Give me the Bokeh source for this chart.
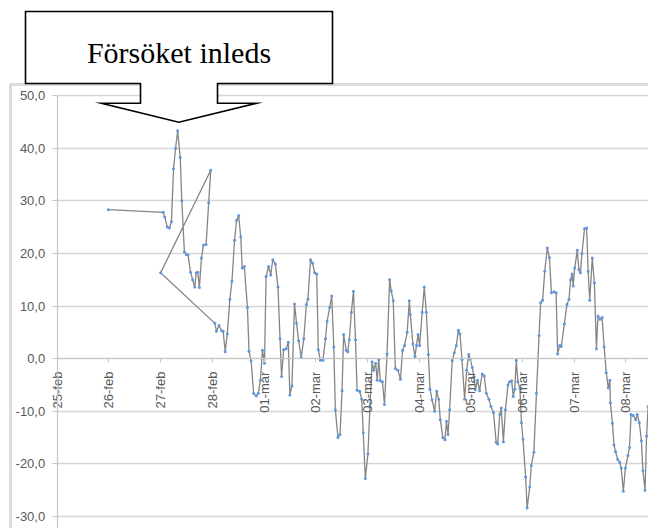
import math
from bokeh.plotting import figure
from bokeh.models import (Range1d, LinearAxis, FixedTicker, Grid, BoxAnnotation,
                          Label, CustomJSTickFormatter)
from bokeh.embed import file_html
from bokeh.resources import INLINE

# ---------------- data ----------------
day_labels = ["25-feb", "26-feb", "27-feb", "28-feb", "01-mar", "02-mar",
              "03-mar", "04-mar", "05-mar", "06-mar", "07-mar", "08-mar"]
y_ticks = [-30, -20, -10, 0, 10, 20, 30, 40, 50]
callout_text = "Försöket inleds"

# days since 25-feb (note the series jumps back once, as in the original)
days = [0.99, 2.05, 2.08, 2.13, 2.17, 2.21, 2.25, 2.29, 2.33, 2.38, 2.41, 2.46, 2.50, 2.53,
        2.58, 2.62, 2.66, 2.69, 2.72, 2.75, 2.79, 2.83, 2.88, 2.93, 2.97, 2.00,
        3.05, 3.08, 3.13, 3.18, 3.21, 3.25, 3.29, 3.34, 3.38, 3.43, 3.47, 3.51, 3.55, 3.58,
        3.62, 3.68, 3.71, 3.75, 3.80, 3.85, 3.89, 3.93, 3.97, 4.01, 4.04, 4.09, 4.13, 4.17,
        4.22, 4.27, 4.31, 4.34, 4.38, 4.43, 4.47, 4.50, 4.54, 4.59, 4.63, 4.67, 4.72, 4.77,
        4.82, 4.85, 4.90, 4.94, 4.98, 5.02, 5.05, 5.09, 5.14, 5.19, 5.22, 5.27, 5.31, 5.35,
        5.38, 5.43, 5.47, 5.51, 5.54, 5.59, 5.62, 5.65, 5.69, 5.73, 5.77, 5.80, 5.85, 5.89,
        5.92, 5.96, 6.01, 6.05, 6.09, 6.12, 6.16, 6.19, 6.22, 6.25, 6.29, 6.33, 6.38, 6.43,
        6.46, 6.50, 6.54, 6.59, 6.64, 6.68, 6.72, 6.77, 6.81, 6.83, 6.88, 6.92, 6.95, 6.98,
        7.01, 7.06, 7.10, 7.14, 7.18, 7.21, 7.25, 7.30, 7.34, 7.38, 7.41, 7.46, 7.50, 7.53,
        7.56, 7.59, 7.64, 7.68, 7.72, 7.76, 7.79, 7.83, 7.88, 7.92, 7.96, 7.99, 8.03, 8.06,
        8.09, 8.13, 8.17, 8.22, 8.26, 8.30, 8.35, 8.39, 8.44, 8.49, 8.52, 8.56, 8.59, 8.63,
        8.67, 8.72, 8.75, 8.79, 8.82, 8.85, 8.88, 8.91, 8.95, 8.98, 9.01, 9.06, 9.09, 9.14,
        9.17, 9.22, 9.27, 9.32, 9.35, 9.39, 9.43, 9.48, 9.52, 9.56, 9.61, 9.65, 9.68, 9.72,
        9.75, 9.81, 9.86, 9.90, 9.93, 9.96, 9.98, 10.01, 10.06, 10.09, 10.12, 10.15, 10.20,
        10.24, 10.27, 10.30, 10.35, 10.39, 10.43, 10.46, 10.50, 10.54, 10.58, 10.62, 10.66,
        10.69, 10.70, 10.74, 10.77, 10.80, 10.84, 10.88, 10.91, 10.95, 10.99, 11.04, 11.07,
        11.10, 11.14, 11.19, 11.22, 11.26, 11.30, 11.33, 11.37, 11.40, 11.43]
temps = [28.3, 27.8, 26.9, 25.0, 24.8, 26.0, 36.1, 40.0, 43.3, 38.2, 30.0, 20.3, 19.8, 19.7,
         16.4, 15.0, 13.6, 16.3, 16.4, 13.5, 19.1, 21.6, 21.7, 29.6, 35.8, 16.3,
         6.7, 5.2, 6.3, 5.3, 5.2, 1.3, 4.7, 11.3, 14.7, 22.5, 26.3, 27.2, 23.1, 17.2,
         17.5, 9.7, 1.4, -0.4, -6.6, -7.1, -6.6, -4.1, 1.6, -0.9, 15.6, 17.5, 15.9, 18.8,
         18.0, 13.6, 3.8, -3.4, 1.7, 1.9, 3.1, -6.9, -5.2, 10.4, 6.7, 3.4, 0.2, 3.8,
         10.3, 11.3, 18.8, 18.1, 16.3, 16.1, 1.7, -0.3, -0.3, 3.8, 7.1, 9.7, 11.9, 2.2,
         -9.7, -15.0, -14.4, -6.1, 4.6, 1.6, 1.3, 3.6, 8.8, 12.8, 3.6, -6.0, -6.2, -7.7,
         -14.1, -22.8, -18.1, -9.1, -0.6, -2.2, -0.9, -4.1, -0.2, -4.2, -4.4, -8.7, 0.9, 15.0,
         12.9, 11.0, -1.9, -2.2, -3.9, 1.6, 2.5, 5.0, 11.0, 8.4, 2.8, 0.4, 2.5, 4.6,
         2.5, 8.8, 13.6, 8.8, 0.8, -5.8, -7.8, -10.0, -6.2, -7.7, -11.6, -15.0, -15.4, -11.9,
         -14.4, -9.7, -0.4, 1.1, 2.5, 5.4, 4.7, -0.2, -7.7, -2.2, 0.8, -0.2, -1.7, -3.4,
         -5.9, -4.1, -6.1, -2.9, -3.3, -6.6, -7.7, -9.1, -10.3, -15.9, -16.2, -10.6, -9.4, -15.8,
         -9.7, -5.0, -4.4, -4.2, -7.2, -5.8, -0.3, -4.4, -5.6, -12.2, -15.3, -22.5, -28.4, -24.4,
         -20.3, -17.8, -6.6, 4.4, 10.6, 11.1, 16.6, 21.0, 19.2, 12.5, 12.7, 12.5, 0.9, 2.5,
         2.3, 6.6, 10.3, 11.3, 15.0, 16.1, 13.8, 17.2, 20.6, 16.9, 16.3, 20.0, 24.7,
         24.8, 16.6, 11.1, 19.1, 14.4, 1.9, 8.1, 7.5, 7.8, 2.2, -2.7, -5.6,
         -4.1, -8.4, -12.3, -16.4, -17.7, -19.1, -19.7, -20.8, -25.2, -20.8, -18.4, -16.9,
         -10.6, -10.8, -11.6, -10.6, -12.2, -15.6, -21.3, -25.0, -14.7, -9.1]

# ---------------- layout ----------------
W, H = 648, 528
PX_DAY = 51.7      # pixels per day
X0 = 56.7          # canvas x of day 0
PX_UNIT = 5.2625   # pixels per degree
Y50 = 95.0         # canvas y of value 50


def dx(px):
    return (px - X0) / PX_DAY


def dy(py):
    return 50 - (py - Y50) / PX_UNIT


x_range = Range1d(-X0 / PX_DAY, (W - X0) / PX_DAY)
y_range = Range1d(50 - (H - Y50) / PX_UNIT, 50 + Y50 / PX_UNIT)

p = figure(width=W, height=H, x_range=x_range, y_range=y_range,
           x_axis_location=None, y_axis_location=None,
           toolbar_location=None, output_backend="svg", min_border=0)
p.outline_line_color = None
p.background_fill_color = "white"
p.border_fill_color = "white"
# drop the default grids
for g in list(p.grid):
    g.visible = False

LABEL_COLOR = "#595959"
AXIS_COLOR = "#c6c6c6"

# chart-area border (top and left visible)
border = BoxAnnotation(left=dx(10), top=dy(84), right=40, bottom=-200,
                       fill_color=None, fill_alpha=0, line_color="#8c8c8c",
                       line_width=3, level="underlay")
p.add_layout(border)

# horizontal gridlines
ygrid = Grid(dimension=1, ticker=FixedTicker(ticks=y_ticks), cross_bounds=(0, 40),
             grid_line_color="#d6d6d6", grid_line_width=1.5)
p.add_layout(ygrid)

# y axis
yaxis = LinearAxis(fixed_location=0, ticker=FixedTicker(ticks=y_ticks),
                   formatter=CustomJSTickFormatter(code="return tick.toFixed(1).replace('.', ',')"),
                   bounds=(-40, 50),
                   axis_line_color=AXIS_COLOR, axis_line_width=1.2,
                   major_tick_line_color=AXIS_COLOR, major_tick_out=5, major_tick_in=0,
                   minor_tick_out=0, minor_tick_in=0,
                   major_label_standoff=7,
                   major_label_text_font="Liberation Sans",
                   major_label_text_font_size="13px",
                   major_label_text_color=LABEL_COLOR)
p.add_layout(yaxis, "left")

# date axis, crossing at 0
xaxis = LinearAxis(fixed_location=0,
                   ticker=FixedTicker(ticks=list(range(len(day_labels)))),
                   major_label_overrides={i: lab for i, lab in enumerate(day_labels)},
                   bounds=(0, 40),
                   major_label_orientation=math.pi / 2,
                   axis_line_color=AXIS_COLOR, axis_line_width=1.2,
                   major_tick_line_color=AXIS_COLOR, major_tick_out=4, major_tick_in=0,
                   minor_tick_out=0, minor_tick_in=0,
                   major_label_standoff=9,
                   major_label_text_font="Liberation Sans",
                   major_label_text_font_size="13px",
                   major_label_text_color=LABEL_COLOR)
p.add_layout(xaxis, "below")

# series
p.line(days, temps, line_color="#858585", line_width=1.3)
p.scatter(days, temps, size=3, fill_color="#6097da", line_color=None)

# down-arrow callout
callout_px = [(25, 11), (332, 11), (332, 83), (217, 83), (217, 102.7), (256, 102.7),
              (178.3, 121.7), (101, 102.7), (140, 102.7), (140, 83), (25, 83)]
p.patch([dx(a) for a, _ in callout_px], [dy(b) for _, b in callout_px],
        fill_color="white", line_color="black", line_width=1.6, line_join="miter")
p.add_layout(Label(x=dx(178.5), y=dy(52), text=callout_text, text_align="center",
                   text_baseline="alphabetic", text_font="Liberation Serif",
                   text_font_size="30px", text_color="black"))

open("out.html", "w", encoding="utf-8").write(file_html(p, INLINE, title="chart"))
